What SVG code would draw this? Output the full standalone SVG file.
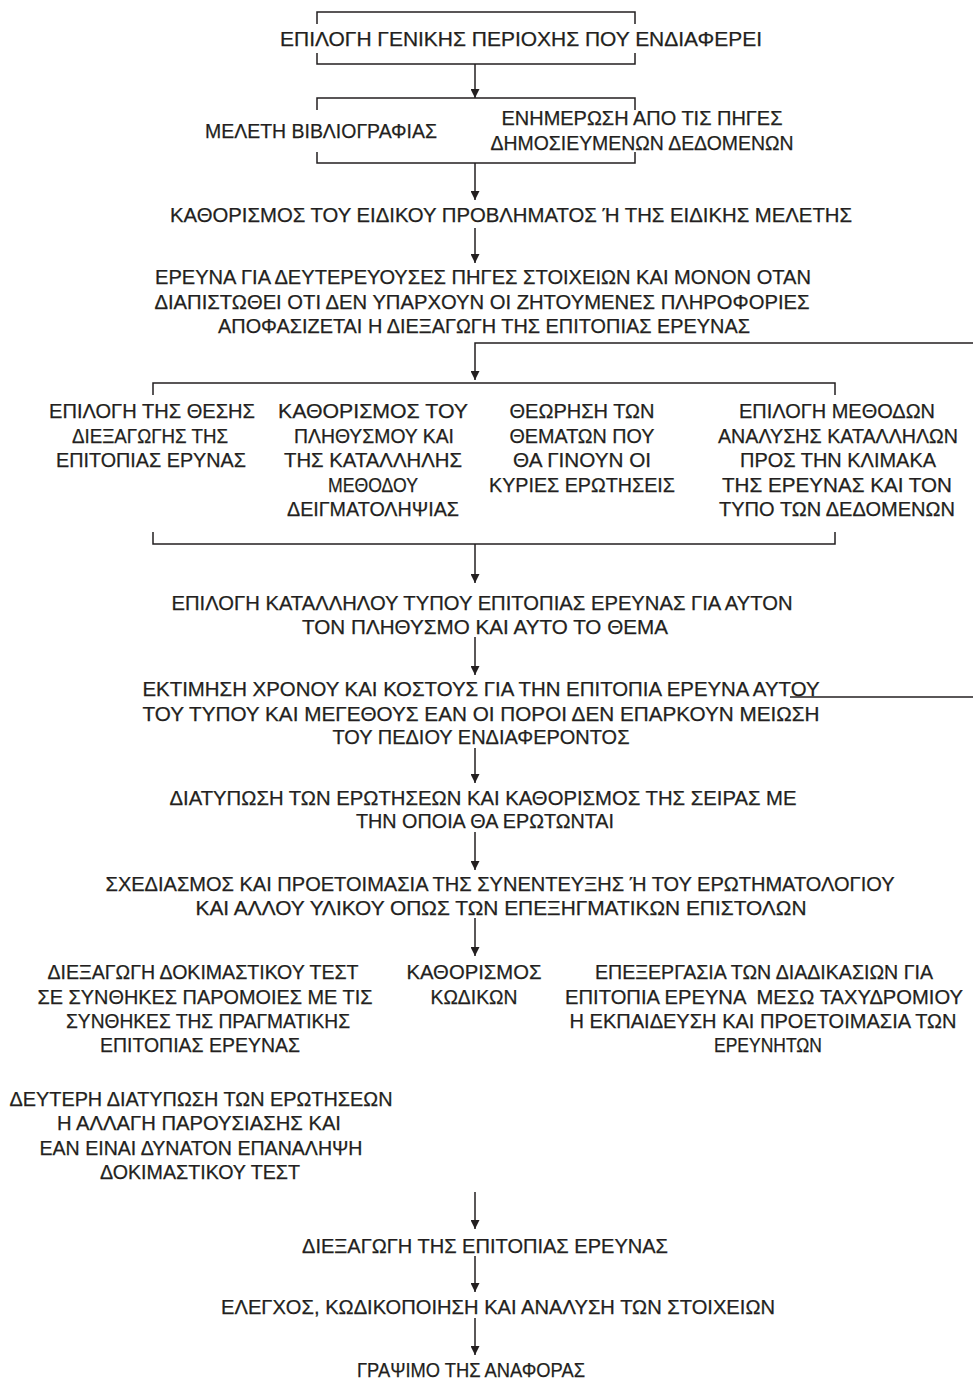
<svg xmlns="http://www.w3.org/2000/svg" width="973" height="1380" viewBox="0 0 973 1380">
<defs>
<style>
text{font-family:"Liberation Sans Narrow","Liberation Sans","DejaVu Sans Condensed",sans-serif;font-size:20px;fill:#231f20;text-anchor:middle;stroke:#231f20;stroke-width:0.25}
.ln{stroke:#231f20;stroke-width:1.5;fill:none}
</style>
<marker id="ah" viewBox="0 0 10 10" refX="10" refY="5" markerWidth="9" markerHeight="9" markerUnits="userSpaceOnUse" orient="auto">
<path d="M0,0 L10,5 L0,10 z" fill="#231f20"/>
</marker>
</defs>
<rect width="973" height="1380" fill="#fff"/>
<g id="connectors">
<path class="ln" d="M317,24 V12 H635 V24"/>
<path class="ln" d="M317,53 V64 H635 V53"/>
<path class="ln" d="M475,64 V98" marker-end="url(#ah)"/>
<path class="ln" d="M317,110 V98 H635 V110"/>
<path class="ln" d="M317,152 V163 H635 V152"/>
<path class="ln" d="M475,163 V200" marker-end="url(#ah)"/>
<path class="ln" d="M475,228 V263" marker-end="url(#ah)"/>
<path class="ln" d="M973,343 H475 V380" marker-end="url(#ah)"/>
<path class="ln" d="M153,395 V383 H835 V395"/>
<path class="ln" d="M153,532 V544 H835 V532"/>
<path class="ln" d="M475,544 V583" marker-end="url(#ah)"/>
<path class="ln" d="M475,637 V675" marker-end="url(#ah)"/>
<path class="ln" d="M790,697 H973"/>
<path class="ln" d="M475,748 V783" marker-end="url(#ah)"/>
<path class="ln" d="M475,832 V870" marker-end="url(#ah)"/>
<path class="ln" d="M475,918 V956" marker-end="url(#ah)"/>
<path class="ln" d="M475,1192 V1229" marker-end="url(#ah)"/>
<path class="ln" d="M475,1256 V1292" marker-end="url(#ah)"/>
<path class="ln" d="M475,1318 V1355" marker-end="url(#ah)"/>
</g>
<g id="n1"><text x="521" y="46" textLength="482" lengthAdjust="spacingAndGlyphs">ΕΠΙΛΟΓΗ ΓΕΝΙΚΗΣ ΠΕΡΙΟΧΗΣ ΠΟΥ ΕΝΔΙΑΦΕΡΕΙ</text></g>
<g id="n2"><text x="321" y="138" textLength="232" lengthAdjust="spacingAndGlyphs">ΜΕΛΕΤΗ ΒΙΒΛΙΟΓΡΑΦΙΑΣ</text></g>
<g id="n3"><text x="642" y="125" textLength="281" lengthAdjust="spacingAndGlyphs">ΕΝΗΜΕΡΩΣΗ ΑΠΟ ΤΙΣ ΠΗΓΕΣ</text>
<text x="642" y="150" textLength="303" lengthAdjust="spacingAndGlyphs">ΔΗΜΟΣΙΕΥΜΕΝΩΝ ΔΕΔΟΜΕΝΩΝ</text></g>
<g id="n4"><text x="511" y="222" textLength="682" lengthAdjust="spacingAndGlyphs">ΚΑΘΟΡΙΣΜΟΣ ΤΟΥ ΕΙΔΙΚΟΥ ΠΡΟΒΛΗΜΑΤΟΣ Ή ΤΗΣ ΕΙΔΙΚΗΣ ΜΕΛΕΤΗΣ</text></g>
<g id="n5"><text x="483" y="284" textLength="656" lengthAdjust="spacingAndGlyphs">ΕΡΕΥΝΑ ΓΙΑ ΔΕΥΤΕΡΕΥΟΥΣΕΣ ΠΗΓΕΣ ΣΤΟΙΧΕΙΩΝ ΚΑΙ ΜΟΝΟΝ ΟΤΑΝ</text>
<text x="482" y="309" textLength="655" lengthAdjust="spacingAndGlyphs">ΔΙΑΠΙΣΤΩΘΕΙ ΟΤΙ ΔΕΝ ΥΠΑΡΧΟΥΝ ΟΙ ΖΗΤΟΥΜΕΝΕΣ ΠΛΗΡΟΦΟΡΙΕΣ</text>
<text x="484" y="333" textLength="532" lengthAdjust="spacingAndGlyphs">ΑΠΟΦΑΣΙΖΕΤΑΙ Η ΔΙΕΞΑΓΩΓΗ ΤΗΣ ΕΠΙΤΟΠΙΑΣ ΕΡΕΥΝΑΣ</text></g>
<g id="n6"><text x="152" y="418" textLength="206" lengthAdjust="spacingAndGlyphs">ΕΠΙΛΟΓΗ ΤΗΣ ΘΕΣΗΣ</text>
<text x="150" y="443" textLength="156" lengthAdjust="spacingAndGlyphs">ΔΙΕΞΑΓΩΓΗΣ ΤΗΣ</text>
<text x="151" y="467" textLength="190" lengthAdjust="spacingAndGlyphs">ΕΠΙΤΟΠΙΑΣ ΕΡΥΝΑΣ</text></g>
<g id="n7"><text x="373" y="418" textLength="190" lengthAdjust="spacingAndGlyphs">ΚΑΘΟΡΙΣΜΟΣ ΤΟΥ</text>
<text x="374" y="443" textLength="160" lengthAdjust="spacingAndGlyphs">ΠΛΗΘΥΣΜΟΥ ΚΑΙ</text>
<text x="373" y="467" textLength="178" lengthAdjust="spacingAndGlyphs">ΤΗΣ ΚΑΤΑΛΛΗΛΗΣ</text>
<text x="373" y="492" textLength="90" lengthAdjust="spacingAndGlyphs">ΜΕΘΟΔΟΥ</text>
<text x="373" y="516" textLength="172" lengthAdjust="spacingAndGlyphs">ΔΕΙΓΜΑΤΟΛΗΨΙΑΣ</text></g>
<g id="n8"><text x="582" y="418" textLength="145" lengthAdjust="spacingAndGlyphs">ΘΕΩΡΗΣΗ ΤΩΝ</text>
<text x="582" y="443" textLength="145" lengthAdjust="spacingAndGlyphs">ΘΕΜΑΤΩΝ ΠΟΥ</text>
<text x="582" y="467" textLength="138" lengthAdjust="spacingAndGlyphs">ΘΑ ΓΙΝΟΥΝ ΟΙ</text>
<text x="582" y="492" textLength="186" lengthAdjust="spacingAndGlyphs">ΚΥΡΙΕΣ ΕΡΩΤΗΣΕΙΣ</text></g>
<g id="n9"><text x="837" y="418" textLength="196" lengthAdjust="spacingAndGlyphs">ΕΠΙΛΟΓΗ ΜΕΘΟΔΩΝ</text>
<text x="838" y="443" textLength="240" lengthAdjust="spacingAndGlyphs">ΑΝΑΛΥΣΗΣ ΚΑΤΑΛΛΗΛΩΝ</text>
<text x="838" y="467" textLength="196" lengthAdjust="spacingAndGlyphs">ΠΡΟΣ ΤΗΝ ΚΛΙΜΑΚΑ</text>
<text x="837" y="492" textLength="230" lengthAdjust="spacingAndGlyphs">ΤΗΣ ΕΡΕΥΝΑΣ ΚΑΙ ΤΟΝ</text>
<text x="837" y="516" textLength="236" lengthAdjust="spacingAndGlyphs">ΤΥΠΟ ΤΩΝ ΔΕΔΟΜΕΝΩΝ</text></g>
<g id="n10"><text x="482" y="610" textLength="621" lengthAdjust="spacingAndGlyphs">ΕΠΙΛΟΓΗ ΚΑΤΑΛΛΗΛΟΥ ΤΥΠΟΥ ΕΠΙΤΟΠΙΑΣ ΕΡΕΥΝΑΣ ΓΙΑ ΑΥΤΟΝ</text>
<text x="485" y="634" textLength="366" lengthAdjust="spacingAndGlyphs">ΤΟΝ ΠΛΗΘΥΣΜΟ ΚΑΙ ΑΥΤΟ ΤΟ ΘΕΜΑ</text></g>
<g id="n11"><text x="481" y="696" textLength="677" lengthAdjust="spacingAndGlyphs">ΕΚΤΙΜΗΣΗ ΧΡΟΝΟΥ ΚΑΙ ΚΟΣΤΟΥΣ ΓΙΑ ΤΗΝ ΕΠΙΤΟΠΙΑ ΕΡΕΥΝΑ ΑΥΤΟΥ</text>
<text x="481" y="721" textLength="677" lengthAdjust="spacingAndGlyphs">ΤΟΥ ΤΥΠΟΥ ΚΑΙ ΜΕΓΕΘΟΥΣ ΕΑΝ ΟΙ ΠΟΡΟΙ ΔΕΝ ΕΠΑΡΚΟΥΝ ΜΕΙΩΣΗ</text>
<text x="481" y="744" textLength="297" lengthAdjust="spacingAndGlyphs">ΤΟΥ ΠΕΔΙΟΥ ΕΝΔΙΑΦΕΡΟΝΤΟΣ</text></g>
<g id="n12"><text x="483" y="805" textLength="627" lengthAdjust="spacingAndGlyphs">ΔΙΑΤΥΠΩΣΗ ΤΩΝ ΕΡΩΤΗΣΕΩΝ ΚΑΙ ΚΑΘΟΡΙΣΜΟΣ ΤΗΣ ΣΕΙΡΑΣ ΜΕ</text>
<text x="485" y="828" textLength="258" lengthAdjust="spacingAndGlyphs">ΤΗΝ ΟΠΟΙΑ ΘΑ ΕΡΩΤΩΝΤΑΙ</text></g>
<g id="n13"><text x="500" y="891" textLength="789" lengthAdjust="spacingAndGlyphs">ΣΧΕΔΙΑΣΜΟΣ ΚΑΙ ΠΡΟΕΤΟΙΜΑΣΙΑ ΤΗΣ ΣΥΝΕΝΤΕΥΞΗΣ Ή ΤΟΥ ΕΡΩΤΗΜΑΤΟΛΟΓΙΟΥ</text>
<text x="501" y="915" textLength="611" lengthAdjust="spacingAndGlyphs">ΚΑΙ ΑΛΛΟΥ ΥΛΙΚΟΥ ΟΠΩΣ ΤΩΝ ΕΠΕΞΗΓΜΑΤΙΚΩΝ ΕΠΙΣΤΟΛΩΝ</text></g>
<g id="n14"><text x="203" y="979" textLength="311" lengthAdjust="spacingAndGlyphs">ΔΙΕΞΑΓΩΓΗ ΔΟΚΙΜΑΣΤΙΚΟΥ ΤΕΣΤ</text>
<text x="205" y="1004" textLength="335" lengthAdjust="spacingAndGlyphs">ΣΕ ΣΥΝΘΗΚΕΣ ΠΑΡΟΜΟΙΕΣ ΜΕ ΤΙΣ</text>
<text x="208" y="1028" textLength="284" lengthAdjust="spacingAndGlyphs">ΣΥΝΘΗΚΕΣ ΤΗΣ ΠΡΑΓΜΑΤΙΚΗΣ</text>
<text x="200" y="1052" textLength="200" lengthAdjust="spacingAndGlyphs">ΕΠΙΤΟΠΙΑΣ ΕΡΕΥΝΑΣ</text></g>
<g id="n15"><text x="474" y="979" textLength="135" lengthAdjust="spacingAndGlyphs">ΚΑΘΟΡΙΣΜΟΣ</text>
<text x="474" y="1004" textLength="87" lengthAdjust="spacingAndGlyphs">ΚΩΔΙΚΩΝ</text></g>
<g id="n16"><text x="764" y="979" textLength="338" lengthAdjust="spacingAndGlyphs">ΕΠΕΞΕΡΓΑΣΙΑ ΤΩΝ ΔΙΑΔΙΚΑΣΙΩΝ ΓΙΑ</text>
<text x="764" y="1004" textLength="398" lengthAdjust="spacingAndGlyphs" xml:space="preserve">ΕΠΙΤΟΠΙΑ ΕΡΕΥΝΑ  ΜΕΣΩ ΤΑΧΥΔΡΟΜΙΟΥ</text>
<text x="763" y="1028" textLength="387" lengthAdjust="spacingAndGlyphs">Η ΕΚΠΑΙΔΕΥΣΗ ΚΑΙ ΠΡΟΕΤΟΙΜΑΣΙΑ ΤΩΝ</text>
<text x="768" y="1052" textLength="108" lengthAdjust="spacingAndGlyphs">ΕΡΕΥΝΗΤΩΝ</text></g>
<g id="n17"><text x="201" y="1106" textLength="383" lengthAdjust="spacingAndGlyphs">ΔΕΥΤΕΡΗ ΔΙΑΤΥΠΩΣΗ ΤΩΝ ΕΡΩΤΗΣΕΩΝ</text>
<text x="199" y="1130" textLength="284" lengthAdjust="spacingAndGlyphs">Η ΑΛΛΑΓΗ ΠΑΡΟΥΣΙΑΣΗΣ ΚΑΙ</text>
<text x="201" y="1155" textLength="323" lengthAdjust="spacingAndGlyphs">ΕΑΝ ΕΙΝΑΙ ΔΥΝΑΤΟΝ ΕΠΑΝΑΛΗΨΗ</text>
<text x="200" y="1179" textLength="200" lengthAdjust="spacingAndGlyphs">ΔΟΚΙΜΑΣΤΙΚΟΥ ΤΕΣΤ</text></g>
<g id="n18"><text x="485" y="1253" textLength="366" lengthAdjust="spacingAndGlyphs">ΔΙΕΞΑΓΩΓΗ ΤΗΣ ΕΠΙΤΟΠΙΑΣ ΕΡΕΥΝΑΣ</text></g>
<g id="n19"><text x="498" y="1314" textLength="554" lengthAdjust="spacingAndGlyphs">ΕΛΕΓΧΟΣ, ΚΩΔΙΚΟΠΟΙΗΣΗ ΚΑΙ ΑΝΑΛΥΣΗ ΤΩΝ ΣΤΟΙΧΕΙΩΝ</text></g>
<g id="n20"><text x="471" y="1377" textLength="228" lengthAdjust="spacingAndGlyphs">ΓΡΑΨΙΜΟ ΤΗΣ ΑΝΑΦΟΡΑΣ</text></g>
</svg>
